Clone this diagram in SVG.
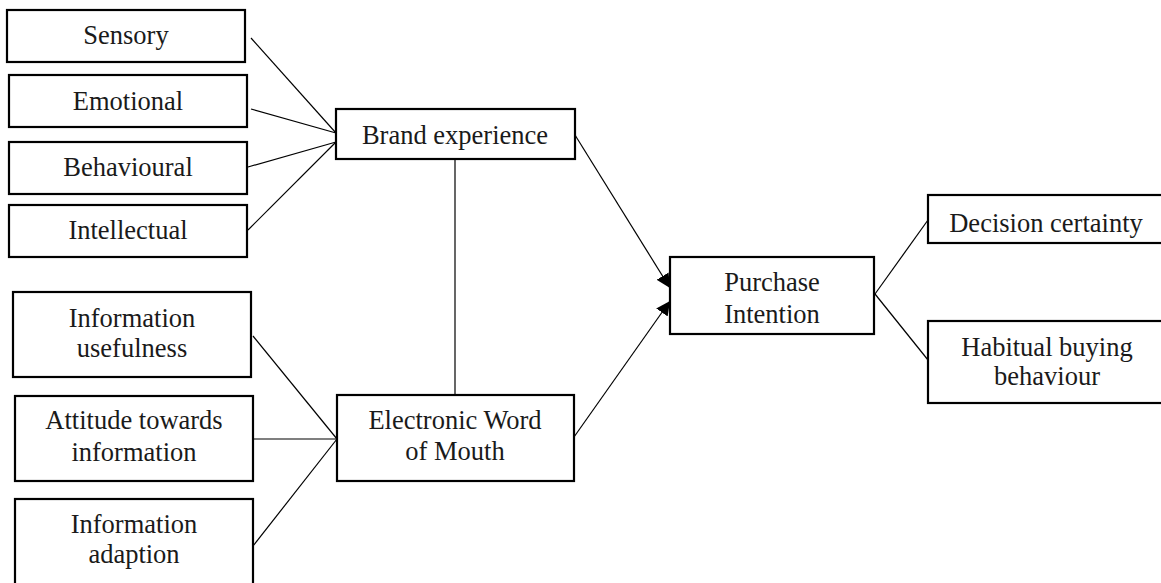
<svg xmlns="http://www.w3.org/2000/svg" width="1161" height="583" viewBox="0 0 1161 583">
  <style>
    .box { fill: #ffffff; stroke: #000000; stroke-width: 2.2; }
    .lbl { font-family: "Liberation Serif", "Times New Roman", serif; font-size: 26.5px; fill: #1a1a1a; text-anchor: middle; }
    .link { stroke: #000000; stroke-width: 1.2; fill: none; }
  </style>
  <defs>
    <marker id="arrow" markerUnits="userSpaceOnUse" markerWidth="14" markerHeight="14" viewBox="0 0 14 14" refX="14" refY="7" orient="auto">
      <path d="M0,0 L14,7 L0,14 Z" fill="#000000"/>
    </marker>
  </defs>
  <rect width="1161" height="583" fill="#ffffff"/>

  <!-- connectors -->
  <g id="connectors">
    <line class="link" x1="251" y1="38" x2="336" y2="133"/>
    <line class="link" x1="251" y1="109" x2="336" y2="133"/>
    <line class="link" x1="248" y1="167" x2="336" y2="142"/>
    <line class="link" x1="248" y1="230" x2="336" y2="142"/>
    <line class="link" x1="455" y1="159" x2="455" y2="395"/>
    <line class="link" x1="575" y1="135" x2="670" y2="288" marker-end="url(#arrow)"/>
    <line class="link" x1="574" y1="437" x2="670" y2="301" marker-end="url(#arrow)"/>
    <line class="link" x1="875" y1="294" x2="928" y2="220"/>
    <line class="link" x1="875" y1="294" x2="928" y2="360"/>
    <line class="link" x1="253" y1="336" x2="337" y2="439"/>
    <line class="link" x1="253" y1="439" x2="337" y2="439"/>
    <line class="link" x1="253" y1="546" x2="337" y2="439"/>
  </g>

  <!-- brand experience dimensions -->
  <g id="sensory">
    <rect class="box" x="7" y="10" width="238" height="52"/>
    <text class="lbl" x="126" y="44">Sensory</text>
  </g>
  <g id="emotional">
    <rect class="box" x="9" y="75" width="238" height="52"/>
    <text class="lbl" x="128" y="110">Emotional</text>
  </g>
  <g id="behavioural">
    <rect class="box" x="9" y="142" width="238" height="52"/>
    <text class="lbl" x="128" y="176">Behavioural</text>
  </g>
  <g id="intellectual">
    <rect class="box" x="9" y="205" width="238" height="52"/>
    <text class="lbl" x="128" y="239">Intellectual</text>
  </g>

  <g id="brand-experience">
    <rect class="box" x="336" y="109" width="239" height="50"/>
    <text class="lbl" x="455" y="144">Brand experience</text>
  </g>

  <!-- eWOM dimensions -->
  <g id="information-usefulness">
    <rect class="box" x="13" y="292" width="238" height="85"/>
    <text class="lbl" x="132" y="327">Information</text>
    <text class="lbl" x="132" y="357">usefulness</text>
  </g>
  <g id="attitude-towards-information">
    <rect class="box" x="15" y="396" width="238" height="85"/>
    <text class="lbl" x="134" y="429">Attitude towards</text>
    <text class="lbl" x="134" y="461">information</text>
  </g>
  <g id="information-adaption">
    <rect class="box" x="15" y="499" width="238" height="100"/>
    <text class="lbl" x="134" y="533">Information</text>
    <text class="lbl" x="134" y="563">adaption</text>
  </g>

  <g id="electronic-word-of-mouth">
    <rect class="box" x="337" y="395" width="237" height="86"/>
    <text class="lbl" x="455" y="429">Electronic Word</text>
    <text class="lbl" x="455" y="460">of Mouth</text>
  </g>

  <g id="purchase-intention">
    <rect class="box" x="670" y="257" width="204" height="77"/>
    <text class="lbl" x="772" y="291">Purchase</text>
    <text class="lbl" x="772" y="323">Intention</text>
  </g>

  <!-- outcomes -->
  <g id="decision-certainty">
    <rect class="box" x="928" y="195" width="240" height="48"/>
    <text class="lbl" x="1046" y="232">Decision certainty</text>
  </g>
  <g id="habitual-buying-behaviour">
    <rect class="box" x="928" y="321" width="240" height="82"/>
    <text class="lbl" x="1047" y="356">Habitual buying</text>
    <text class="lbl" x="1047" y="385">behaviour</text>
  </g>
</svg>
